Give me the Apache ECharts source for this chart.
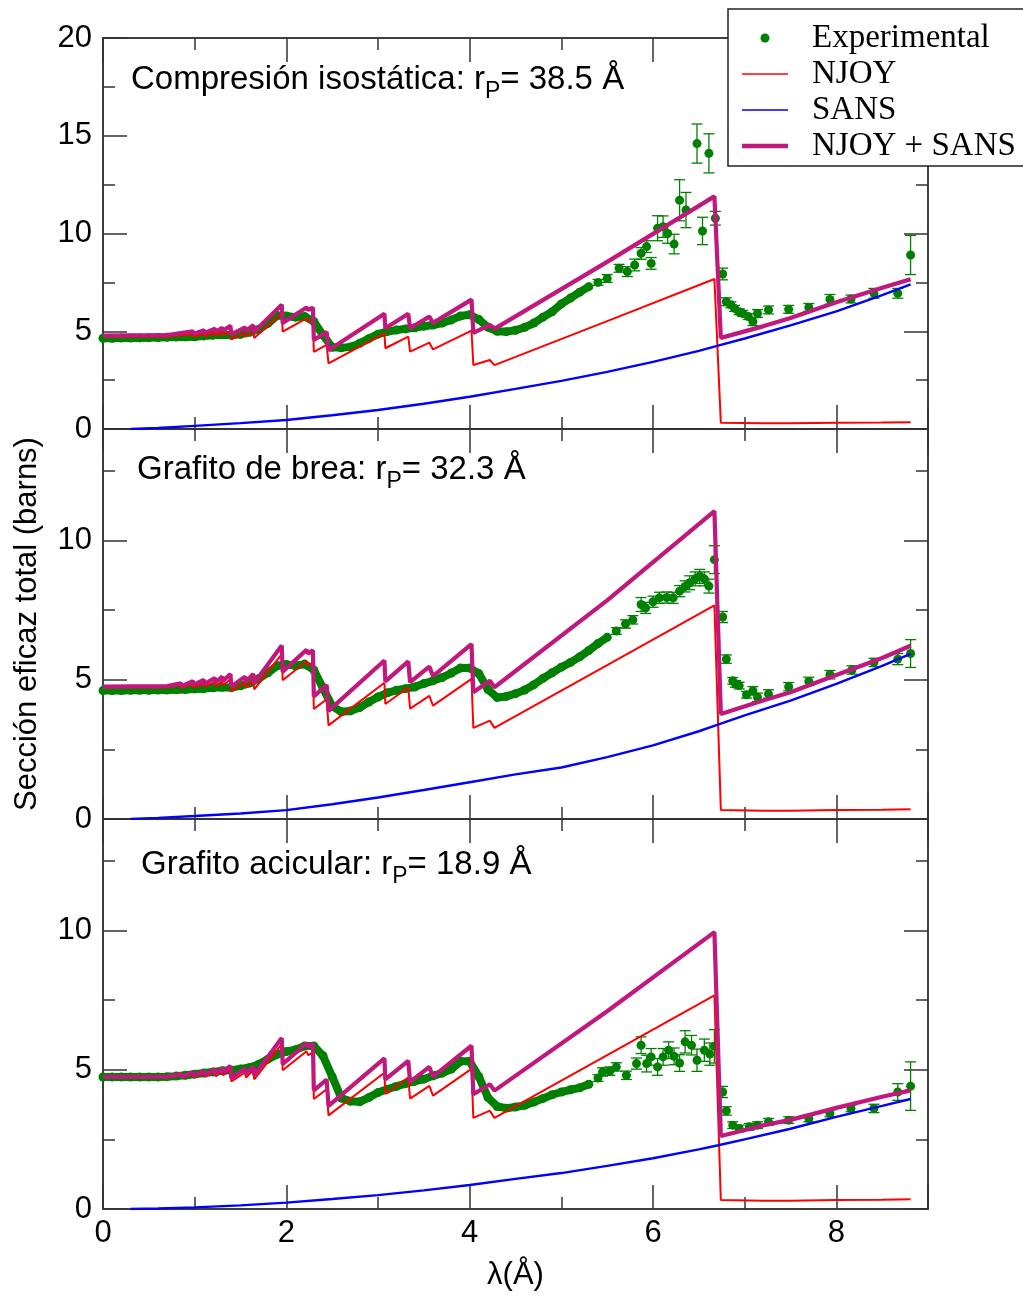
<!DOCTYPE html>
<html><head><meta charset="utf-8">
<script src="https://cdn.jsdelivr.net/npm/echarts@6/dist/echarts.min.js"></script>
<style>html,body{margin:0;padding:0;background:#fff}#c{width:1023px;height:1300px}</style>
</head><body><div id="c"></div><script>
// ---------------- DATA ----------------
// model wavelength breakpoints (Å) shared by NJOY and NJOY+SANS
const lambdaModel = [0.00,0.70,0.85,0.86,0.98,0.99,1.10,1.11,1.22,1.23,1.30,1.31,1.39,1.40,1.55,1.56,1.64,1.65,1.95,1.96,2.22,2.24,2.29,2.30,2.44,2.46,3.07,3.08,3.33,3.35,3.56,3.60,4.02,4.04,4.22,4.27,5.50,6.67,6.74,7.20,7.50,8.00,8.50,8.81];
const njoy = [4.72,4.72,4.80,4.70,4.85,4.72,4.88,4.74,4.92,4.76,4.95,4.80,5.02,4.58,4.90,4.72,4.98,4.65,5.92,4.98,5.66,5.52,5.62,3.95,4.30,3.36,4.89,4.13,4.72,3.96,4.42,4.07,5.03,3.27,3.53,3.27,5.52,7.67,0.32,0.30,0.30,0.32,0.33,0.35];
const sumP1 = [4.78,4.80,4.91,4.81,4.99,4.86,5.05,4.91,5.13,4.97,5.18,5.03,5.28,4.84,5.20,5.02,5.31,4.98,6.36,5.42,6.22,6.09,6.21,4.55,4.96,4.03,5.90,5.15,5.90,5.15,5.75,5.43,6.62,4.92,5.33,5.12,8.55,11.90,4.66,5.25,5.68,6.48,7.22,7.66];
const sumP2 = [4.75,4.77,4.87,4.77,4.95,4.82,4.99,4.85,5.06,4.90,5.11,4.96,5.20,4.76,5.11,4.93,5.21,4.88,6.23,5.29,6.07,5.94,6.06,4.40,4.81,3.88,5.69,4.94,5.66,4.91,5.47,5.13,6.28,4.55,4.96,4.73,7.85,11.05,3.77,4.25,4.55,5.17,5.78,6.22];
const sumP3 = [4.74,4.75,4.84,4.74,4.91,4.78,4.95,4.81,5.01,4.85,5.05,4.90,5.14,4.70,5.04,4.86,5.13,4.80,6.14,5.20,5.95,5.81,5.93,4.26,4.64,3.70,5.41,4.65,5.32,4.56,5.10,4.75,5.86,4.12,4.48,4.25,7.10,9.94,2.62,3.00,3.20,3.63,4.03,4.26];

const lambdaSans = [0.3,0.6,1.0,1.5,2.0,2.5,3.0,3.5,4.0,4.5,5.0,5.5,6.0,6.5,6.7,7.0,7.5,8.0,8.5,8.81];
const sansP1 = [0.00,0.05,0.16,0.30,0.46,0.70,0.97,1.29,1.65,2.05,2.46,2.92,3.43,4.00,4.25,4.63,5.30,6.02,6.85,7.40];
const sansP2 = [0.00,0.04,0.11,0.20,0.32,0.53,0.77,1.04,1.32,1.60,1.85,2.22,2.64,3.15,3.38,3.72,4.25,4.85,5.50,5.93];
const sansP3 = [0.00,0.02,0.06,0.13,0.23,0.36,0.50,0.67,0.86,1.08,1.29,1.55,1.82,2.14,2.28,2.50,2.88,3.31,3.70,3.95];

// experimental: dense region (error bars hidden by the markers)
const expDenseLambdaP1 = [0.0,0.1,0.2,0.3,0.4,0.5,0.6,0.7,0.8,0.9,1.0,1.1,1.2,1.3,1.4,1.5,1.6,1.7,1.8,1.9,2.0,2.1,2.2,2.3,2.4,2.5,2.6,2.7,2.8,2.9,3.0,3.1,3.2,3.3,3.4,3.5,3.6,3.7,3.8,3.9,4.0,4.1,4.2,4.3,4.4,4.5,4.6,4.7,4.8,4.9,5.0,5.1,5.2,5.3];
const expDenseSigmaP1 = [4.64,4.64,4.65,4.65,4.66,4.67,4.68,4.69,4.70,4.71,4.72,4.76,4.80,4.82,4.80,4.84,4.95,5.10,5.40,5.80,5.78,5.72,5.76,5.50,4.80,4.18,4.15,4.20,4.38,4.62,4.85,4.98,5.06,5.12,5.18,5.26,5.32,5.42,5.58,5.78,5.85,5.60,5.20,5.00,4.98,5.05,5.20,5.42,5.72,6.00,6.40,6.70,7.00,7.28];
const expBarLambdaP1 = [5.40,5.50,5.63,5.72,5.80,5.87,5.93,5.98,6.05,6.11,6.16,6.23,6.29,6.36,6.48,6.54,6.61,6.68,6.76,6.80,6.85,6.89,6.94,6.98,7.04,7.09,7.14,7.26,7.48,7.70,7.93,8.16,8.41,8.67,8.81];
const expBarSigmaP1 = [7.50,7.70,8.22,8.05,8.39,8.98,9.33,8.47,10.27,10.35,10.00,9.46,11.70,11.20,14.60,10.13,14.10,10.78,7.93,6.51,6.35,6.17,6.00,5.91,5.75,5.49,5.91,6.09,6.12,6.22,6.63,6.65,6.94,6.94,8.90];
const expBarErrP1 = [0.15,0.20,0.20,0.25,0.30,0.30,0.30,0.30,0.64,0.55,0.50,0.50,1.05,0.90,1.00,0.70,1.00,0.35,0.30,0.20,0.15,0.15,0.15,0.15,0.15,0.20,0.20,0.20,0.20,0.20,0.25,0.20,0.25,0.25,1.00];

const expDenseLambdaP2 = [0.0,0.1,0.2,0.3,0.4,0.5,0.6,0.7,0.8,0.9,1.0,1.1,1.2,1.3,1.4,1.5,1.6,1.7,1.8,1.9,2.0,2.1,2.2,2.3,2.4,2.5,2.6,2.7,2.8,2.9,3.0,3.1,3.2,3.3,3.4,3.5,3.6,3.7,3.8,3.9,4.0,4.1,4.2,4.3,4.4,4.5,4.6,4.7,4.8,4.9,5.0,5.1,5.2,5.3,5.4,5.5];
const expDenseSigmaP2 = [4.61,4.61,4.61,4.62,4.62,4.62,4.63,4.63,4.64,4.65,4.67,4.68,4.71,4.73,4.72,4.78,4.88,5.04,5.25,5.50,5.55,5.50,5.56,5.35,4.70,4.05,3.85,3.88,4.00,4.20,4.38,4.53,4.62,4.68,4.74,4.86,4.96,5.08,5.24,5.42,5.42,5.22,4.65,4.36,4.40,4.50,4.63,4.82,5.05,5.25,5.45,5.62,5.82,6.05,6.30,6.52];
const expBarLambdaP2 = [5.60,5.70,5.78,5.87,5.92,6.00,6.07,6.15,6.22,6.29,6.35,6.40,6.46,6.51,6.56,6.61,6.67,6.76,6.80,6.87,6.90,6.94,7.02,7.09,7.14,7.26,7.48,7.70,7.93,8.17,8.41,8.67,8.81];
const expBarSigmaP2 = [6.75,7.00,7.15,7.70,7.58,7.80,7.94,7.95,7.94,8.18,8.35,8.48,8.62,8.71,8.62,8.36,9.31,7.25,5.74,4.96,4.85,4.79,4.46,4.60,4.37,4.49,4.75,4.94,5.18,5.35,5.62,5.74,5.94];
const expBarErrP2 = [0.12,0.15,0.15,0.25,0.20,0.20,0.20,0.20,0.20,0.20,0.20,0.25,0.25,0.25,0.25,0.25,0.50,0.20,0.15,0.12,0.12,0.12,0.12,0.15,0.15,0.15,0.15,0.15,0.15,0.15,0.15,0.20,0.50];

const expDenseLambdaP3 = [0.0,0.1,0.2,0.3,0.4,0.5,0.6,0.7,0.8,0.9,1.0,1.1,1.2,1.3,1.4,1.5,1.6,1.7,1.8,1.9,2.0,2.1,2.2,2.3,2.4,2.5,2.6,2.7,2.8,2.9,3.0,3.1,3.2,3.3,3.4,3.5,3.6,3.7,3.8,3.9,4.0,4.1,4.2,4.3,4.4,4.5,4.6,4.7,4.8,4.9,5.0,5.1,5.2,5.3];
const expDenseSigmaP3 = [4.74,4.74,4.74,4.74,4.74,4.74,4.74,4.75,4.77,4.80,4.84,4.88,4.92,4.96,4.98,5.03,5.08,5.20,5.38,5.55,5.65,5.72,5.85,5.85,5.50,4.75,3.98,3.87,3.85,4.00,4.18,4.30,4.40,4.50,4.58,4.66,4.78,4.88,5.02,5.30,5.30,4.75,4.00,3.68,3.62,3.66,3.72,3.84,3.97,4.10,4.20,4.28,4.35,4.48];
const expBarLambdaP3 = [5.40,5.45,5.53,5.60,5.71,5.82,5.87,5.93,5.98,6.05,6.11,6.17,6.23,6.29,6.35,6.42,6.48,6.56,6.62,6.67,6.76,6.80,6.87,6.94,7.05,7.14,7.26,7.48,7.70,7.93,8.16,8.41,8.67,8.81];
const expBarSigmaP3 = [4.70,4.92,4.95,5.10,4.80,5.22,5.88,5.22,5.46,5.10,5.46,5.70,5.48,5.24,6.00,5.88,5.34,5.70,5.56,5.84,4.20,3.52,3.01,2.89,2.95,3.01,3.13,3.19,3.25,3.43,3.61,3.61,4.20,4.41];
const expBarErrP3 = [0.12,0.15,0.15,0.15,0.15,0.20,0.30,0.30,0.30,0.30,0.30,0.30,0.30,0.30,0.40,0.35,0.40,0.40,0.40,0.60,0.20,0.15,0.12,0.12,0.12,0.12,0.12,0.12,0.12,0.12,0.12,0.15,0.30,0.87];

const panelTitleMain = ['Compresión isostática: r', 'Grafito de brea: r', 'Grafito acicular: r'];
const panelTitleSub = ['P', 'P', 'P'];
const panelTitleTail = ['= 38.5 Å', '= 32.3 Å', '= 18.9 Å'];
const yMaxes = [20, 14, 14];
const legendNames = ['Experimental', 'NJOY', 'SANS', 'NJOY + SANS'];
const xName = 'λ(Å)';
const yName = 'Sección eficaz total (barns)';

// ---------------- STYLE / LAYOUT ----------------
const GREEN = '#008000', RED = '#ff0000', BLUE = '#0000ff', MAG = '#c0187c';
const AX = '#333333';
const SANSF = 'Liberation Sans, Arial, sans-serif';
const SERIF = 'Liberation Serif, Times New Roman, serif';
const gridTops = [38, 429, 819];
const gridHeights = [391, 390, 390];
const titleLeft = [131, 137, 141];
const titleTop = [57, 447, 842];

const grids = gridTops.map((t, i) => ({left: 103, top: t, width: 825, height: gridHeights[i], containLabel: false, outerBoundsMode: 'none', show: false}));

const xAxes = [], yAxes = [];
gridTops.forEach((t, g) => {
  [['bottom', 2, 24, true], ['bottom', 1, 12, false], ['top', 2, 24, false], ['top', 1, 12, false]].forEach(([pos, iv, len, main]) => {
    const lab = main && pos === 'bottom' && g === 2;
    xAxes.push({
      type: 'value', gridIndex: g, position: pos, min: 0, max: 9, interval: iv,
      axisLine: {show: true, onZero: false, lineStyle: {color: AX, width: 1.5}},
      axisTick: {show: true, inside: true, length: len, lineStyle: {color: AX, width: 1.5}},
      axisLabel: {show: lab, margin: 9, fontSize: 31, color: '#000', fontFamily: SANSF,
        formatter: v => (Math.abs(v % 2) < 1e-9 ? String(v) : '')},
      splitLine: {show: false},
      name: lab ? xName : '', nameLocation: 'middle', nameGap: 51,
      nameTextStyle: {fontSize: 31, color: '#000', fontFamily: SANSF}
    });
  });
  [['left', 5, 24, true], ['left', 2.5, 12, false], ['right', 5, 24, false], ['right', 2.5, 12, false]].forEach(([pos, iv, len, main]) => {
    const lab = main && pos === 'left';
    yAxes.push({
      type: 'value', gridIndex: g, position: pos, min: 0, max: yMaxes[g], interval: iv,
      axisLine: {show: true, onZero: false, lineStyle: {color: AX, width: 1.5}},
      axisTick: {show: true, inside: true, length: len, lineStyle: {color: AX, width: 1.5}},
      axisLabel: {show: lab, margin: 11, fontSize: 31, color: '#000', fontFamily: SANSF,
        formatter: v => (Math.abs(v % 5) < 1e-9 ? String(v) : '')},
      splitLine: {show: false},
      name: (lab && g === 1) ? yName : '', nameLocation: 'middle', nameGap: 60, nameRotate: 90,
      nameTextStyle: {fontSize: 31, color: '#000', fontFamily: SANSF}
    });
  });
});

const panels = [
  {dl: expDenseLambdaP1, ds: expDenseSigmaP1, bl: expBarLambdaP1, bs: expBarSigmaP1, be: expBarErrP1, sans: sansP1, sum: sumP1},
  {dl: expDenseLambdaP2, ds: expDenseSigmaP2, bl: expBarLambdaP2, bs: expBarSigmaP2, be: expBarErrP2, sans: sansP2, sum: sumP2},
  {dl: expDenseLambdaP3, ds: expDenseSigmaP3, bl: expBarLambdaP3, bs: expBarSigmaP3, be: expBarErrP3, sans: sansP3, sum: sumP3}
];

function errRender(params, api) {
  const x = api.value(0), y = api.value(1), e = api.value(2);
  const top = api.coord([x, y + e]);
  const bot = api.coord([x, y - e]);
  const hw = 5.5;
  const st = {stroke: GREEN, lineWidth: 1.3};
  return {type: 'group', children: [
    {type: 'line', shape: {x1: top[0], y1: top[1], x2: bot[0], y2: bot[1]}, style: st},
    {type: 'line', shape: {x1: top[0] - hw, y1: top[1], x2: top[0] + hw, y2: top[1]}, style: st},
    {type: 'line', shape: {x1: bot[0] - hw, y1: bot[1], x2: bot[0] + hw, y2: bot[1]}, style: st}
  ]};
}

const series = [];
panels.forEach((p, i) => {
  const ai = 4 * i;
  const dense = p.dl.map((x, k) => [x, p.ds[k]]);
  const bars = p.bl.map((x, k) => [x, p.bs[k], p.be[k]]);
  series.push({type: 'line', name: 'exp-band', xAxisIndex: ai, yAxisIndex: ai, data: dense, symbol: 'none',
    lineStyle: {color: GREEN, width: 8, cap: 'round', join: 'round'}, itemStyle: {color: GREEN}, z: 1, silent: true});
  series.push({type: 'custom', name: 'exp-err', xAxisIndex: ai, yAxisIndex: ai, data: bars,
    encode: {x: 0, y: 1}, renderItem: errRender, z: 2, silent: true});
  series.push({type: 'scatter', name: legendNames[0], xAxisIndex: ai, yAxisIndex: ai,
    data: dense.concat(bars.map(b => [b[0], b[1]])), symbol: 'circle', symbolSize: 9,
    itemStyle: {color: GREEN, opacity: 1}, z: 2});
  series.push({type: 'line', name: legendNames[1], xAxisIndex: ai, yAxisIndex: ai,
    data: lambdaModel.map((x, k) => [x, njoy[k]]), symbol: 'none',
    lineStyle: {color: RED, width: 2}, itemStyle: {color: RED}, z: 3});
  series.push({type: 'line', name: legendNames[2], xAxisIndex: ai, yAxisIndex: ai,
    data: lambdaSans.map((x, k) => [x, p.sans[k]]), symbol: 'none',
    lineStyle: {color: BLUE, width: 2.4}, itemStyle: {color: BLUE}, z: 3});
  series.push({type: 'line', name: legendNames[3], xAxisIndex: ai, yAxisIndex: ai,
    data: lambdaModel.map((x, k) => [x, p.sum[k]]), symbol: 'none',
    lineStyle: {color: MAG, width: 4.2}, itemStyle: {color: MAG}, z: 4});
});

const titles = panelTitleMain.map((t, i) => ({
  text: '{a|' + t + '}{s|' + panelTitleSub[i] + '}{a|' + panelTitleTail[i] + '}',
  left: titleLeft[i], top: titleTop[i], padding: 0,
  textStyle: {fontWeight: 'normal', rich: {
    a: {fontSize: 33, fontFamily: SANSF, fontWeight: 'normal', color: '#000', lineHeight: 46},
    s: {fontSize: 23, fontFamily: SANSF, fontWeight: 'normal', color: '#000', lineHeight: 17, verticalAlign: 'bottom'}
  }}
}));

const option = {
  animation: false,
  backgroundColor: '#fff',
  title: titles,
  grid: grids,
  xAxis: xAxes,
  yAxis: yAxes,
  legend: {
    orient: 'vertical', left: 728, top: 9, padding: [11, 30, 2, 14],
    itemWidth: 46, itemHeight: 9, itemGap: 0, selectedMode: false,
    backgroundColor: '#fff', borderColor: '#222', borderWidth: 1.5, z: 20,
    textStyle: {fontFamily: SERIF, fontSize: 33, color: '#000', lineHeight: 36, padding: [0, 0, 0, 19]},
    data: [
      {name: legendNames[0], icon: 'circle', itemStyle: {color: GREEN, borderWidth: 0, opacity: 1}},
      {name: legendNames[1], icon: 'path://M0,0H46V1.6H0Z', itemStyle: {color: RED, borderWidth: 0}},
      {name: legendNames[2], icon: 'path://M0,0H46V1.6H0Z', itemStyle: {color: BLUE, borderWidth: 0}},
      {name: legendNames[3], icon: 'path://M0,0H46V4.5H0Z', itemStyle: {color: MAG, borderWidth: 0}}
    ]
  },
  series: series
};

const chart = echarts.init(document.getElementById('c'), null, {renderer: 'canvas'});
chart.setOption(option);
</script></body></html>
